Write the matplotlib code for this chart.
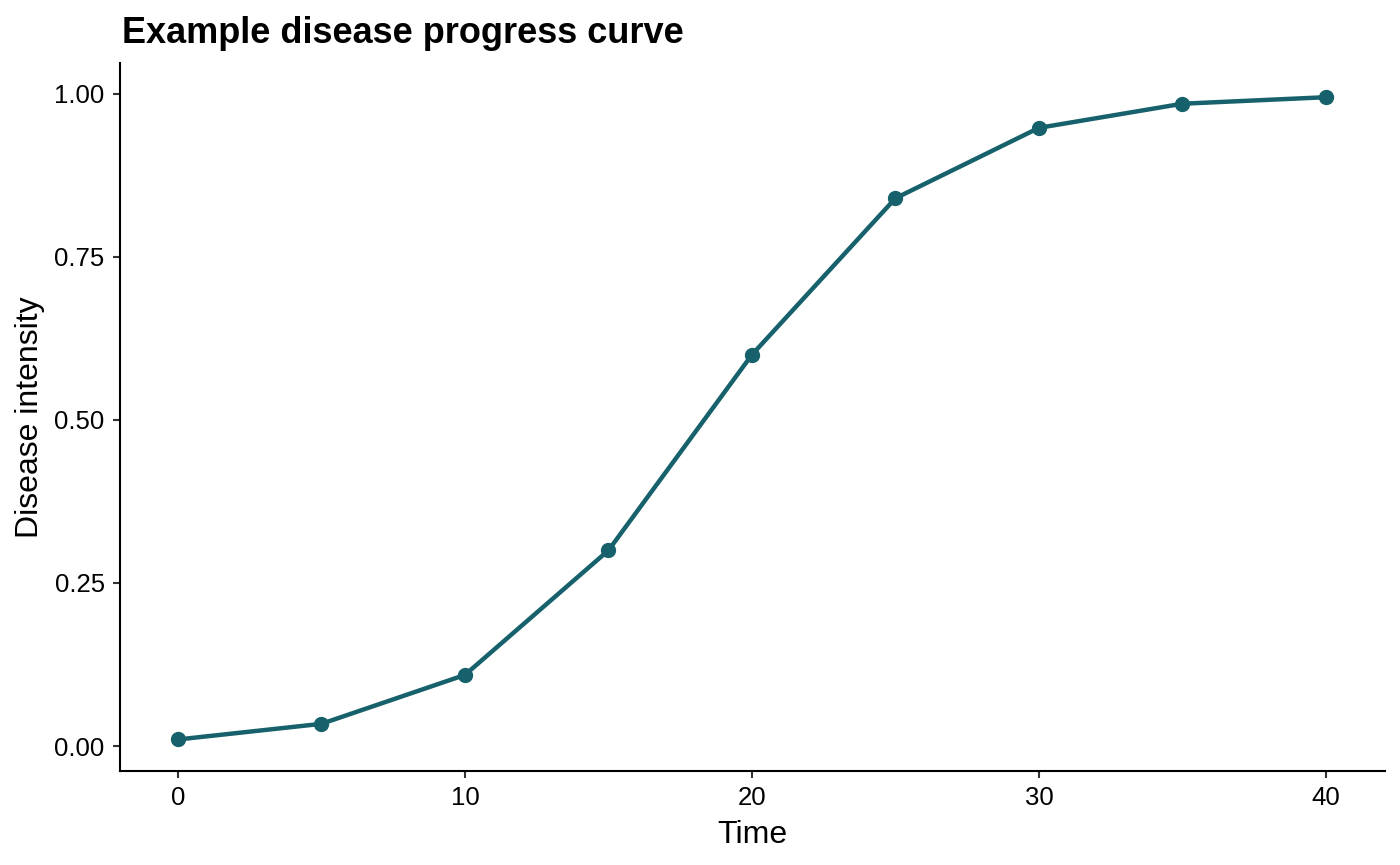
import matplotlib
matplotlib.use("Agg")
from matplotlib import pyplot as plt

# Dados da curva de progresso
Tempo = [0, 5, 10, 15, 20, 25, 30, 35, 40]
Intensidade = [0.01, 0.034, 0.109, 0.30, 0.60, 0.84, 0.948, 0.985, 0.995]

plt.rcParams['font.family'] = ['Liberation Sans', 'DejaVu Sans']

fig = plt.figure(figsize=(14, 8.65), dpi=100)
ax = fig.add_axes([0.0857, 0.1087, 0.9036, 0.8185])

ax.plot(Tempo, Intensidade, color='#16616b', linewidth=3.2,
        marker='o', markersize=10, solid_capstyle='butt')

ax.set_xlim(-2.02, 42.06)
ax.set_ylim(-0.0383, 1.0475)
ax.set_xticks([0, 10, 20, 30, 40])
ax.set_yticks([0, 0.25, 0.5, 0.75, 1.0])
ax.set_yticklabels(['0.00', '0.25', '0.50', '0.75', '1.00'])

for s in ['top', 'right']:
    ax.spines[s].set_visible(False)
for s in ['left', 'bottom']:
    ax.spines[s].set_linewidth(1.5)

ax.tick_params(axis='both', labelsize=18.5, length=5, width=1.5, color='#333333', pad=6)
ax.set_xlabel('Time', fontsize=23, labelpad=7)
ax.set_ylabel('Disease intensity', fontsize=23, labelpad=7)

fig.text(0.087, 0.961, 'Example disease progress curve', fontsize=26,
         fontweight='bold', ha='left', va='center')

fig.savefig('out.png', dpi=100)
